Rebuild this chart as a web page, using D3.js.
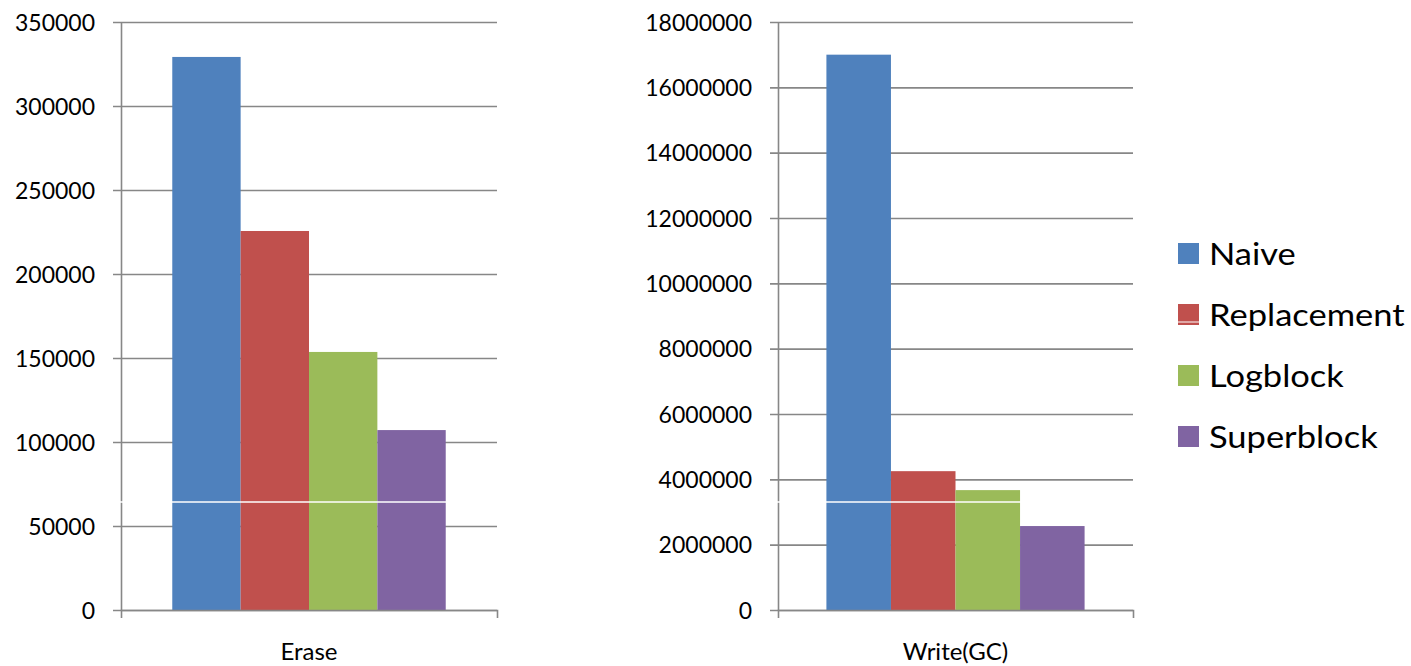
<!DOCTYPE html>
<html>
<head>
<meta charset="utf-8">
<script src="https://cdn.jsdelivr.net/npm/d3@7"></script>
<style>
  html, body { margin: 0; padding: 0; background: #fff; }
  svg { display: block; font-family: Lato, "Open Sans", sans-serif; }
</style>
</head>
<body>
<div id="chart"></div>
<script>
const seriesNames = ['Naive', 'Replacement', 'Logblock', 'Superblock'];
const seriesColors = ['#4F81BD', '#C0504D', '#9BBB59', '#8064A2'];

const eraseCategory = ['Erase'];
const eraseValues = [329200, 225600, 153600, 107100];
const eraseTicks = [0, 50000, 100000, 150000, 200000, 250000, 300000, 350000];

const writeCategory = ['Write(GC)'];
const writeValues = [17000000, 4250000, 3670000, 2570000];
const writeTicks = [0, 2000000, 4000000, 6000000, 8000000, 10000000, 12000000, 14000000, 16000000, 18000000];

// the source image has a thin white seam running through the bars
const seamEraseValue = 64300;

const width = 1411, height = 666;
const gridColor = '#878787';
const fontFamily = 'Lato, "Open Sans", sans-serif';

const svg = d3.select('#chart').append('svg')
  .attr('width', width)
  .attr('height', height);

function drawPanel(opts) {
  const { left, right, top, bottom, category, values, ticks, labelPad } = opts;

  const y = d3.scaleLinear()
    .domain([0, d3.max(ticks)])
    .range([bottom, top]);

  const x0 = d3.scaleBand()
    .domain(category)
    .range([left, right])
    .paddingInner(0)
    .paddingOuter(0.1875);

  const x1 = d3.scaleBand()
    .domain(seriesNames)
    .range([0, x0.bandwidth()]);

  const g = svg.append('g');

  // y axis with gridlines
  const yAxis = g.append('g')
    .attr('transform', `translate(${left},0)`)
    .call(d3.axisLeft(y).tickValues(ticks).tickSizeOuter(0).tickSizeInner(-(right - left)).tickPadding(labelPad).tickFormat(d3.format('d')))
    .attr('font-family', fontFamily)
    .attr('font-size', 23);
  yAxis.selectAll('.tick line')
    .attr('x1', -8)
    .attr('x2', right - left)
    .attr('stroke', gridColor)
    .attr('stroke-width', 1.6);
  yAxis.select('.domain').attr('stroke', gridColor).attr('stroke-width', 1.6);
  yAxis.selectAll('.tick text')
    .attr('fill', '#000')
    .attr('dy', '0.36em');

  // bars
  g.selectAll('rect.bar')
    .data(values.map((v, i) => ({ name: seriesNames[i], value: v, color: seriesColors[i] })))
    .join('rect')
    .attr('class', 'bar')
    .attr('x', d => x0(category[0]) + x1(d.name))
    .attr('y', d => y(d.value))
    .attr('width', x1.bandwidth())
    .attr('height', d => y(0) - y(d.value))
    .attr('fill', d => d.color);

  // x axis
  const xAxis = g.append('g')
    .attr('transform', `translate(0,${bottom})`)
    .call(d3.axisBottom(x0).tickSizeInner(0).tickSizeOuter(8))
    .attr('font-family', fontFamily)
    .attr('font-size', 24);
  xAxis.select('.domain').attr('stroke', gridColor).attr('stroke-width', 1.6);
  xAxis.selectAll('.tick text')
    .attr('fill', '#000')
    .attr('dy', null)
    .attr('y', 50);

  return y;
}

const yErase = drawPanel({
  left: 121, right: 497, top: 22, bottom: 610,
  category: eraseCategory, values: eraseValues, ticks: eraseTicks, labelPad: 26
});

drawPanel({
  left: 778, right: 1133, top: 22, bottom: 610,
  category: writeCategory, values: writeValues, ticks: writeTicks, labelPad: 26
});

// seam artifact
svg.append('line')
  .attr('x1', 110).attr('x2', 1140)
  .attr('y1', yErase(seamEraseValue)).attr('y2', yErase(seamEraseValue))
  .attr('stroke', '#fff')
  .attr('stroke-width', 1.5);

// legend
const legend = svg.append('g').attr('transform', 'translate(1178,243)');
const items = legend.selectAll('g')
  .data(seriesNames)
  .join('g')
  .attr('transform', (d, i) => `translate(0,${i * 61})`);
items.append('rect')
  .attr('width', 21)
  .attr('height', 21)
  .attr('fill', (d, i) => seriesColors[i]);
items.append('text')
  .attr('transform', 'translate(31,22) scale(1.15,1)')
  .attr('font-size', 30)
  .attr('fill', '#000')
  .text(d => d);
items.filter((d, i) => i === 1).append('line')
  .attr('x1', 0).attr('x2', 21)
  .attr('y1', 18).attr('y2', 18)
  .attr('stroke', '#fff')
  .attr('stroke-width', 1);
</script>
</body>
</html>
